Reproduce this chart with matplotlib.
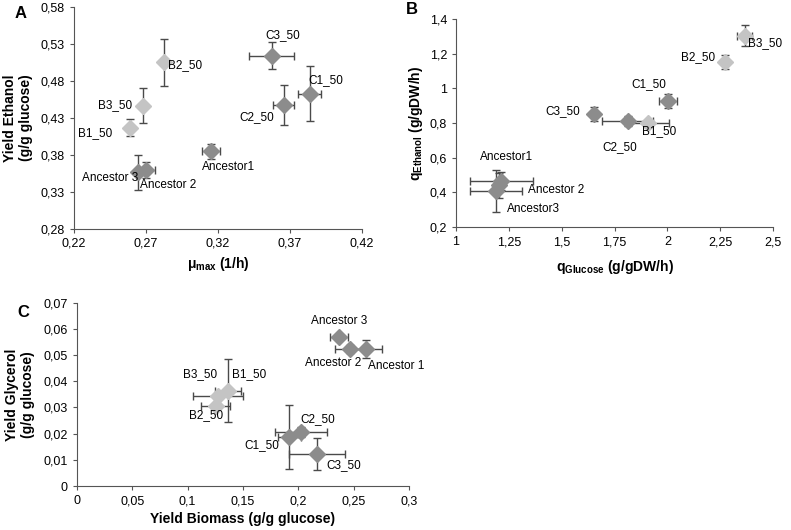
import numpy as np
import matplotlib
matplotlib.use('Agg')
import matplotlib.pyplot as plt
from matplotlib.ticker import FuncFormatter

plt.rcParams['font.family'] = ['Liberation Sans', 'DejaVu Sans']
plt.rcParams['mathtext.default'] = 'regular'

# panel A: growth rate vs ethanol yield
a_names = ['B1_50', 'B2_50', 'B3_50', 'C1_50', 'C2_50', 'C3_50', 'Ancestor1', 'Ancestor 2', 'Ancestor 3']
a_x = [0.259, 0.2826, 0.2677, 0.3836, 0.3655, 0.3574, 0.315, 0.270, 0.2647]
a_y = [0.417, 0.505, 0.4467, 0.4629, 0.4477, 0.5142, 0.385, 0.3595, 0.3566]
a_xerr = [0.002, 0.0, 0.0, 0.008, 0.0075, 0.0157, 0.0064, 0.006, 0.0]
a_yerr = [0.011, 0.032, 0.024, 0.037, 0.027, 0.018, 0.0104, 0.011, 0.0236]

# panel B: glucose uptake vs ethanol production
b_names = ['B1_50', 'B2_50', 'B3_50', 'C1_50', 'C2_50', 'C3_50', 'Ancestor1', 'Ancestor 2', 'Ancestor3']
b_x = [1.909, 2.2715, 2.366, 2.0036, 1.8126, 1.654, 1.215, 1.205, 1.19]
b_y = [0.80, 1.151, 1.3037, 0.928, 0.812, 0.851, 0.465, 0.44, 0.408]
b_xerr = [0.10, 0.015, 0.036, 0.041, 0.121, 0.01, 0.151, 0.01, 0.124]
b_yerr = [0.01, 0.04, 0.06, 0.039, 0.03, 0.039, 0.05, 0.07, 0.12]

# panel C: biomass yield vs glycerol yield
c_names = ['B1_50', 'B2_50', 'B3_50', 'C1_50', 'C2_50', 'C3_50', 'Ancestor 1', 'Ancestor 2', 'Ancestor 3']
c_x = [0.1367, 0.1253, 0.1274, 0.1918, 0.2024, 0.217, 0.261, 0.2466, 0.237]
c_y = [0.0364, 0.0307, 0.0344, 0.0188, 0.0207, 0.0122, 0.0522, 0.0522, 0.057]
c_xerr = [0.0116, 0.0128, 0.0226, 0.0105, 0.0236, 0.0251, 0.0142, 0.0135, 0.008]
c_yerr = [0.012, 0.0, 0.0, 0.0123, 0.002, 0.006, 0.0034, 0.0016, 0.001]

light = '#c4c4c4'
dark = '#8c8c8c'
ecol = '#4a4a4a'

def comma(v, pos):
    s = ('%g' % round(v, 3))
    return s.replace('.', ',')

def comma2(v, pos):
    return ('%.2f' % v).replace('.', ',')

def draw(ax, names, xs, ys, xe, ye, offsets):
    for n, x, y, dx, dy, off in zip(names, xs, ys, xe, ye, offsets):
        col = light if n.startswith('B') else dark
        ax.errorbar(x, y, xerr=dx if dx else None, yerr=dy if dy else None,
                    fmt='none', ecolor=ecol, elinewidth=1, capsize=3, capthick=1, zorder=2)
        ax.plot(x, y, marker='D', ms=8, color=col, mec=col, ls='none', zorder=3)
        ax.annotate(n, (x, y), xytext=off, textcoords='offset points',
                    fontsize=8.5, ha='center', va='center', zorder=4)

def style(ax):
    for s in ['top', 'right']:
        ax.spines[s].set_visible(False)
    for s in ['left', 'bottom']:
        ax.spines[s].set_color('#555555')
    ax.tick_params(labelsize=9, length=3, color='#555555', direction='out')

fig = plt.figure(figsize=(7.91, 5.30), dpi=100)

axA = fig.add_axes([0.0936, 0.568, 0.364, 0.419])
draw(axA, a_names, a_x, a_y, a_xerr, a_yerr,
     [(-25, -4), (15, -2), (-20, 0), (12, 10), (-19, -9), (8, 15), (13, -11), (16, -11), (-20, -4)])
axA.set_xlim(0.22, 0.42)
axA.set_ylim(0.28, 0.58)
axA.set_xticks(np.arange(0.22, 0.43, 0.05))
axA.set_yticks(np.arange(0.28, 0.59, 0.05))
axA.xaxis.set_major_formatter(FuncFormatter(comma2))
axA.yaxis.set_major_formatter(FuncFormatter(comma2))
style(axA)
axA.set_xlabel('μ$_{max}$ (1/h)', fontsize=10, fontweight='bold')
axA.set_ylabel('Yield Ethanol\n(g/g glucose)', fontsize=10, fontweight='bold')
axA.xaxis.set_label_coords(0.5, -0.117)
axA.yaxis.set_label_coords(-0.142, 0.5)

axB = fig.add_axes([0.5765, 0.5717, 0.4008, 0.3925])
draw(axB, b_names, b_x, b_y, b_xerr, b_yerr,
     [(8, -6), (-19, 4), (15, -5), (-14, 12), (-6, -19), (-23, 2), (4, 17), (41, -3), (27, -13)])
axB.set_xlim(1, 2.5)
axB.set_ylim(0.2, 1.4)
axB.set_xticks(np.arange(1, 2.51, 0.25))
axB.set_yticks(np.arange(0.2, 1.41, 0.2))
axB.xaxis.set_major_formatter(FuncFormatter(comma))
axB.yaxis.set_major_formatter(FuncFormatter(comma))
style(axB)
axB.set_xlabel('q$_{Glucose}$ (g/gDW/h)', fontsize=10, fontweight='bold')
axB.set_ylabel('q$_{Ethanol}$ (g/gDW/h)', fontsize=10, fontweight='bold')
axB.xaxis.set_label_coords(0.5, -0.149)
axB.yaxis.set_label_coords(-0.098, 0.5)

axC = fig.add_axes([0.0973, 0.083, 0.4197, 0.346])
draw(axC, c_names, c_x, c_y, c_xerr, c_yerr,
     [(15, 12), (-7, -7), (-13, 16), (-20, -6), (12, 9), (19, -8), (22, -12), (-12, -10), (0, 11)])
axC.set_xlim(0, 0.3)
axC.set_ylim(0, 0.07)
axC.set_xticks(np.arange(0, 0.31, 0.05))
axC.set_yticks(np.arange(0, 0.071, 0.01))
axC.xaxis.set_major_formatter(FuncFormatter(comma))
axC.yaxis.set_major_formatter(FuncFormatter(comma))
style(axC)
axC.set_xlabel('Yield Biomass (g/g glucose)', fontsize=10, fontweight='bold')
axC.set_ylabel('Yield Glycerol\n(g/g glucose)', fontsize=10, fontweight='bold')
axC.xaxis.set_label_coords(0.5, -0.142)
axC.yaxis.set_label_coords(-0.127, 0.5)

fig.text(0.018, 0.975, 'A', fontsize=12, fontweight='bold', va='center')
fig.text(0.513, 0.982, 'B', fontsize=12, fontweight='bold', va='center')
fig.text(0.022, 0.41, 'C', fontsize=12, fontweight='bold', va='center')

fig.savefig('out.png', dpi=100)
